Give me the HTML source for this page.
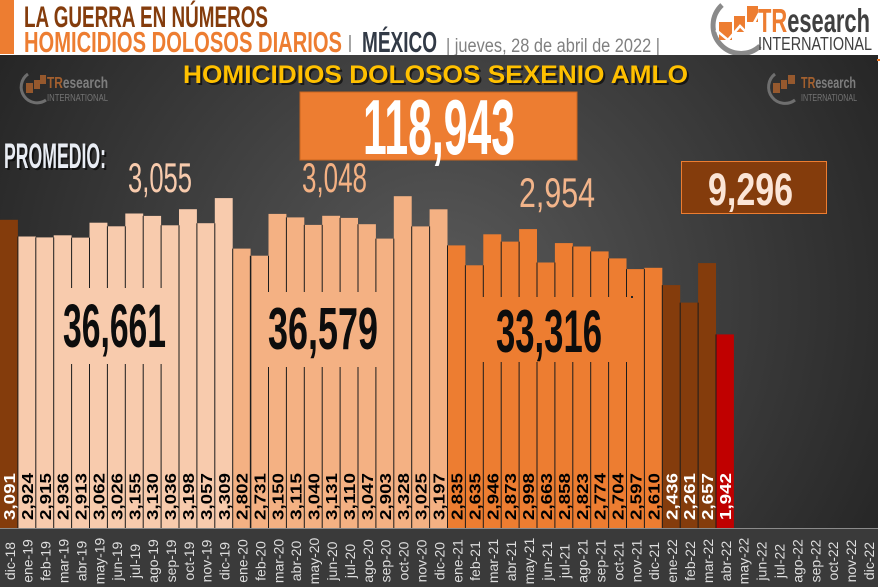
<!DOCTYPE html>
<html><head><meta charset="utf-8"><style>
html,body{margin:0;padding:0;background:#fff;width:880px;height:588px;overflow:hidden}
svg{display:block}
.b{font-family:"Liberation Sans",Arial,sans-serif;font-weight:bold}
.r{font-family:"Liberation Sans",Arial,sans-serif}
</style></head><body>
<svg width="880" height="588" viewBox="0 0 880 588" xmlns="http://www.w3.org/2000/svg">
<defs>
<radialGradient id="bg" cx="440" cy="300" r="520" gradientUnits="userSpaceOnUse">
<stop offset="0" stop-color="#5a5a5a"/><stop offset="0.55" stop-color="#3c3c3c"/><stop offset="1" stop-color="#242424"/>
</radialGradient>
</defs>
<rect x="0" y="0" width="880" height="588" fill="#fff"/>
<!-- header -->
<rect x="0" y="0" width="14" height="54" fill="#ed7d31"/>
<text class="b" x="24" y="27" font-size="30" fill="#843c0c" textLength="244" lengthAdjust="spacingAndGlyphs">LA GUERRA EN NÚMEROS</text>
<text class="b" x="24" y="52" font-size="29" fill="#ed7d31" textLength="318" lengthAdjust="spacingAndGlyphs">HOMICIDIOS DOLOSOS DIARIOS</text>
<rect x="349" y="35" width="2" height="17" fill="#a6a6a6"/>
<text class="b" x="362" y="52" font-size="29" fill="#323a46" textLength="75" lengthAdjust="spacingAndGlyphs">MÉXICO</text>
<text class="r" x="446" y="52" font-size="19" fill="#808080" textLength="214" lengthAdjust="spacingAndGlyphs">| jueves, 28 de abril de 2022 |</text>
<!-- logo top right -->
<path d="M722 5 A26 26 0 1 0 760 46" fill="none" stroke="#8a8a8a" stroke-width="5"/>
<rect x="719" y="22" width="13" height="18" fill="#ed7d31"/>
<rect x="734" y="16" width="11" height="16" fill="#ed7d31"/>
<rect x="747" y="6" width="11" height="16" fill="#ed7d31"/>
<polyline points="716,30 728,40 740,26 748,34 762,8" fill="none" stroke="#fff" stroke-width="2.5"/>
<text class="b" x="758" y="32" font-size="33" textLength="112" lengthAdjust="spacingAndGlyphs"><tspan fill="#ed7d31">TR</tspan><tspan fill="#404040">esearch</tspan></text>
<text class="r" x="758" y="50" font-size="18" fill="#404040" textLength="114" lengthAdjust="spacingAndGlyphs">INTERNATIONAL</text>
<!-- dark area -->
<rect x="0" y="55" width="878" height="532" fill="url(#bg)"/>
<rect x="877" y="59" width="3" height="2" fill="#ed7d31"/>
<!-- watermarks -->
<g opacity="0.85">
<path d="M28 74 A15 15 0 1 0 46 100" fill="none" stroke="#7a7a7a" stroke-width="3"/>
<rect x="26" y="83" width="7" height="10" fill="#a8612e"/><rect x="34" y="80" width="6" height="9" fill="#a8612e"/><rect x="40" y="75" width="6" height="9" fill="#a8612e"/>
<text class="b" x="47" y="88" font-size="16" textLength="61" lengthAdjust="spacingAndGlyphs"><tspan fill="#b8692f">TR</tspan><tspan fill="#8c8c8c">esearch</tspan></text>
<text class="r" x="47" y="101" font-size="10.5" fill="#7f7f7f" textLength="61" lengthAdjust="spacingAndGlyphs">INTERNATIONAL</text>
<path d="M775 74 A15 15 0 1 0 795 100" fill="none" stroke="#7a7a7a" stroke-width="3"/>
<rect x="773" y="83" width="7" height="10" fill="#a8612e"/><rect x="781" y="80" width="6" height="9" fill="#a8612e"/><rect x="788" y="75" width="7" height="9" fill="#a8612e"/>
<text class="b" x="801" y="88" font-size="16" textLength="55" lengthAdjust="spacingAndGlyphs"><tspan fill="#b8692f">TR</tspan><tspan fill="#8c8c8c">esearch</tspan></text>
<text class="r" x="801" y="101" font-size="10.5" fill="#7f7f7f" textLength="56" lengthAdjust="spacingAndGlyphs">INTERNATIONAL</text>
</g>
<!-- title -->
<text class="b" x="185" y="85" font-size="25" fill="#000" opacity="0.6" textLength="505" lengthAdjust="spacingAndGlyphs">HOMICIDIOS DOLOSOS SEXENIO AMLO</text>
<text class="b" x="183" y="83" font-size="25" fill="#ffc000" textLength="505" lengthAdjust="spacingAndGlyphs">HOMICIDIOS DOLOSOS SEXENIO AMLO</text>
<!-- total box -->
<rect x="300" y="92" width="277" height="68" fill="#ed7d31" stroke="#c9651f" stroke-width="1"/>
<text class="b" x="363" y="154" font-size="78" fill="#fff" textLength="152" lengthAdjust="spacingAndGlyphs">118,943</text>
<!-- promedio -->
<text class="b" x="6" y="170" font-size="35" fill="#000" opacity="0.6" textLength="102" lengthAdjust="spacingAndGlyphs">PROMEDIO:</text>
<text class="b" x="4" y="168" font-size="35" fill="#e9edf4" textLength="102" lengthAdjust="spacingAndGlyphs">PROMEDIO:</text>
<text class="r" x="128" y="192" font-size="42" fill="#f8cbad" textLength="64" lengthAdjust="spacingAndGlyphs">3,055</text>
<text class="r" x="302" y="192" font-size="42" fill="#f4b183" textLength="65" lengthAdjust="spacingAndGlyphs">3,048</text>
<text class="r" x="519" y="207" font-size="42" fill="#f2b48a" textLength="76" lengthAdjust="spacingAndGlyphs">2,954</text>
<!-- 9296 box -->
<rect x="681.5" y="161.5" width="145" height="52" fill="#843c0c" stroke="#ed7d31" stroke-width="1"/>
<text class="b" x="708" y="205" font-size="45" fill="#fbe5d6" textLength="85" lengthAdjust="spacingAndGlyphs">9,296</text>
<!-- label strip -->
<rect x="0" y="528" width="878" height="59" fill="#3a3a3a"/>
<rect x="0" y="528" width="878" height="1" fill="#8a8a8a"/>
<!-- bars -->
<g>
<rect x="0" y="219.8" width="17.9" height="308.2" fill="#843c0c"/>
<rect x="17.9" y="236.5" width="17.9" height="291.5" fill="#f8cbad"/>
<rect x="35.8" y="237.4" width="17.9" height="290.6" fill="#f8cbad"/>
<rect x="53.7" y="235.3" width="17.9" height="292.7" fill="#f8cbad"/>
<rect x="71.6" y="237.6" width="17.9" height="290.4" fill="#f8cbad"/>
<rect x="89.5" y="222.7" width="17.9" height="305.3" fill="#f8cbad"/>
<rect x="107.4" y="226.3" width="17.9" height="301.7" fill="#f8cbad"/>
<rect x="125.3" y="213.5" width="17.9" height="314.5" fill="#f8cbad"/>
<rect x="143.2" y="215.9" width="17.9" height="312.1" fill="#f8cbad"/>
<rect x="161.1" y="225.3" width="17.9" height="302.7" fill="#f8cbad"/>
<rect x="179" y="209.2" width="17.9" height="318.8" fill="#f8cbad"/>
<rect x="196.9" y="223.2" width="17.9" height="304.8" fill="#f8cbad"/>
<rect x="214.8" y="198.1" width="17.9" height="329.9" fill="#f8cbad"/>
<rect x="232.7" y="248.6" width="17.9" height="279.4" fill="#f4b183"/>
<rect x="250.6" y="255.7" width="17.9" height="272.3" fill="#f4b183"/>
<rect x="268.5" y="213.9" width="17.9" height="314.1" fill="#f4b183"/>
<rect x="286.4" y="217.4" width="17.9" height="310.6" fill="#f4b183"/>
<rect x="304.3" y="224.9" width="17.9" height="303.1" fill="#f4b183"/>
<rect x="322.2" y="215.8" width="17.9" height="312.2" fill="#f4b183"/>
<rect x="340.1" y="217.9" width="17.9" height="310.1" fill="#f4b183"/>
<rect x="358" y="224.2" width="17.9" height="303.8" fill="#f4b183"/>
<rect x="375.9" y="238.6" width="17.9" height="289.4" fill="#f4b183"/>
<rect x="393.8" y="196.2" width="17.9" height="331.8" fill="#f4b183"/>
<rect x="411.7" y="226.4" width="17.9" height="301.6" fill="#f4b183"/>
<rect x="429.6" y="209.3" width="17.9" height="318.7" fill="#f4b183"/>
<rect x="447.5" y="245.4" width="17.9" height="282.6" fill="#ed7d31"/>
<rect x="465.4" y="265.3" width="17.9" height="262.7" fill="#ed7d31"/>
<rect x="483.3" y="234.3" width="17.9" height="293.7" fill="#ed7d31"/>
<rect x="501.2" y="241.6" width="17.9" height="286.4" fill="#ed7d31"/>
<rect x="519.1" y="229.1" width="17.9" height="298.9" fill="#ed7d31"/>
<rect x="537" y="262.5" width="17.9" height="265.5" fill="#ed7d31"/>
<rect x="554.9" y="243.1" width="17.9" height="284.9" fill="#ed7d31"/>
<rect x="572.8" y="246.5" width="17.9" height="281.5" fill="#ed7d31"/>
<rect x="590.7" y="251.4" width="17.9" height="276.6" fill="#ed7d31"/>
<rect x="608.6" y="258.4" width="17.9" height="269.6" fill="#ed7d31"/>
<rect x="626.5" y="269.1" width="17.9" height="258.9" fill="#ed7d31"/>
<rect x="644.4" y="267.8" width="17.9" height="260.2" fill="#ed7d31"/>
<rect x="662.3" y="285.1" width="17.9" height="242.9" fill="#843c0c"/>
<rect x="680.2" y="302.6" width="17.9" height="225.4" fill="#843c0c"/>
<rect x="698.1" y="263.1" width="17.9" height="264.9" fill="#843c0c"/>
<rect x="716" y="334.4" width="17.9" height="193.6" fill="#c00000"/>
</g>
<!-- separators -->
<g stroke="#1c1c1c" stroke-width="1">
<line x1="17.9" y1="236.5" x2="17.9" y2="528"/>
<line x1="35.8" y1="237.4" x2="35.8" y2="528"/>
<line x1="53.7" y1="237.4" x2="53.7" y2="528"/>
<line x1="71.6" y1="237.6" x2="71.6" y2="528"/>
<line x1="89.5" y1="237.6" x2="89.5" y2="528"/>
<line x1="107.4" y1="226.3" x2="107.4" y2="528"/>
<line x1="125.3" y1="226.3" x2="125.3" y2="528"/>
<line x1="143.2" y1="215.9" x2="143.2" y2="528"/>
<line x1="161.1" y1="225.3" x2="161.1" y2="528"/>
<line x1="179" y1="225.3" x2="179" y2="528"/>
<line x1="196.9" y1="223.2" x2="196.9" y2="528"/>
<line x1="214.8" y1="223.2" x2="214.8" y2="528"/>
<line x1="232.7" y1="248.6" x2="232.7" y2="528"/>
<line x1="250.6" y1="255.7" x2="250.6" y2="528" stroke-width="1.5"/>
<line x1="268.5" y1="255.7" x2="268.5" y2="528"/>
<line x1="286.4" y1="217.4" x2="286.4" y2="528"/>
<line x1="304.3" y1="224.9" x2="304.3" y2="528"/>
<line x1="322.2" y1="224.9" x2="322.2" y2="528"/>
<line x1="340.1" y1="217.9" x2="340.1" y2="528"/>
<line x1="358" y1="224.2" x2="358" y2="528"/>
<line x1="375.9" y1="238.6" x2="375.9" y2="528"/>
<line x1="393.8" y1="238.6" x2="393.8" y2="528"/>
<line x1="411.7" y1="226.4" x2="411.7" y2="528"/>
<line x1="429.6" y1="226.4" x2="429.6" y2="528"/>
<line x1="447.5" y1="245.4" x2="447.5" y2="528"/>
<line x1="465.4" y1="265.3" x2="465.4" y2="528"/>
<line x1="483.3" y1="265.3" x2="483.3" y2="528"/>
<line x1="501.2" y1="241.6" x2="501.2" y2="528"/>
<line x1="519.1" y1="241.6" x2="519.1" y2="528"/>
<line x1="537" y1="262.5" x2="537" y2="528"/>
<line x1="554.9" y1="262.5" x2="554.9" y2="528"/>
<line x1="572.8" y1="246.5" x2="572.8" y2="528"/>
<line x1="590.7" y1="251.4" x2="590.7" y2="528"/>
<line x1="608.6" y1="258.4" x2="608.6" y2="528"/>
<line x1="626.5" y1="269.1" x2="626.5" y2="528"/>
<line x1="644.4" y1="269.1" x2="644.4" y2="528"/>
<line x1="662.3" y1="285.1" x2="662.3" y2="528"/>
<line x1="680.2" y1="302.6" x2="680.2" y2="528"/>
<line x1="698.1" y1="302.6" x2="698.1" y2="528"/>
<line x1="716" y1="334.4" x2="716" y2="528"/>
</g>
<!-- overlay boxes -->
<rect x="55" y="288" width="122" height="76" fill="#f8cbad"/>
<rect x="253" y="292" width="138" height="75" fill="#f4b183"/>
<rect x="472" y="297" width="160" height="65" fill="#ed7d31"/>
<rect x="631" y="296" width="2" height="2" fill="#222"/>
<text class="b" x="63" y="347" font-size="61" fill="#0d0d0d" textLength="103" lengthAdjust="spacingAndGlyphs">36,661</text>
<text class="b" x="268" y="349" font-size="59" fill="#0d0d0d" textLength="110" lengthAdjust="spacingAndGlyphs">36,579</text>
<text class="b" x="496" y="352" font-size="60" fill="#0d0d0d" textLength="106" lengthAdjust="spacingAndGlyphs">33,316</text>
<!-- bar values -->
<g font-size="16" font-family="Liberation Sans, Arial, sans-serif" font-weight="bold">
<text transform="translate(15,520) rotate(-90)" fill="#fff" textLength="47" lengthAdjust="spacingAndGlyphs">3,091</text>
<text transform="translate(32.9,520) rotate(-90)" fill="#000" textLength="47" lengthAdjust="spacingAndGlyphs">2,924</text>
<text transform="translate(50.8,520) rotate(-90)" fill="#000" textLength="47" lengthAdjust="spacingAndGlyphs">2,915</text>
<text transform="translate(68.7,520) rotate(-90)" fill="#000" textLength="47" lengthAdjust="spacingAndGlyphs">2,936</text>
<text transform="translate(86.6,520) rotate(-90)" fill="#000" textLength="47" lengthAdjust="spacingAndGlyphs">2,913</text>
<text transform="translate(104.5,520) rotate(-90)" fill="#000" textLength="47" lengthAdjust="spacingAndGlyphs">3,062</text>
<text transform="translate(122.4,520) rotate(-90)" fill="#000" textLength="47" lengthAdjust="spacingAndGlyphs">3,026</text>
<text transform="translate(140.3,520) rotate(-90)" fill="#000" textLength="47" lengthAdjust="spacingAndGlyphs">3,155</text>
<text transform="translate(158.2,520) rotate(-90)" fill="#000" textLength="47" lengthAdjust="spacingAndGlyphs">3,130</text>
<text transform="translate(176.1,520) rotate(-90)" fill="#000" textLength="47" lengthAdjust="spacingAndGlyphs">3,036</text>
<text transform="translate(194,520) rotate(-90)" fill="#000" textLength="47" lengthAdjust="spacingAndGlyphs">3,198</text>
<text transform="translate(211.9,520) rotate(-90)" fill="#000" textLength="47" lengthAdjust="spacingAndGlyphs">3,057</text>
<text transform="translate(229.8,520) rotate(-90)" fill="#000" textLength="47" lengthAdjust="spacingAndGlyphs">3,309</text>
<text transform="translate(247.7,520) rotate(-90)" fill="#000" textLength="47" lengthAdjust="spacingAndGlyphs">2,802</text>
<text transform="translate(265.6,520) rotate(-90)" fill="#000" textLength="47" lengthAdjust="spacingAndGlyphs">2,731</text>
<text transform="translate(283.5,520) rotate(-90)" fill="#000" textLength="47" lengthAdjust="spacingAndGlyphs">3,150</text>
<text transform="translate(301.4,520) rotate(-90)" fill="#000" textLength="47" lengthAdjust="spacingAndGlyphs">3,115</text>
<text transform="translate(319.3,520) rotate(-90)" fill="#000" textLength="47" lengthAdjust="spacingAndGlyphs">3,040</text>
<text transform="translate(337.2,520) rotate(-90)" fill="#000" textLength="47" lengthAdjust="spacingAndGlyphs">3,131</text>
<text transform="translate(355.1,520) rotate(-90)" fill="#000" textLength="47" lengthAdjust="spacingAndGlyphs">3,110</text>
<text transform="translate(373,520) rotate(-90)" fill="#000" textLength="47" lengthAdjust="spacingAndGlyphs">3,047</text>
<text transform="translate(390.9,520) rotate(-90)" fill="#000" textLength="47" lengthAdjust="spacingAndGlyphs">2,903</text>
<text transform="translate(408.8,520) rotate(-90)" fill="#000" textLength="47" lengthAdjust="spacingAndGlyphs">3,328</text>
<text transform="translate(426.7,520) rotate(-90)" fill="#000" textLength="47" lengthAdjust="spacingAndGlyphs">3,025</text>
<text transform="translate(444.6,520) rotate(-90)" fill="#000" textLength="47" lengthAdjust="spacingAndGlyphs">3,197</text>
<text transform="translate(462.5,520) rotate(-90)" fill="#000" textLength="47" lengthAdjust="spacingAndGlyphs">2,835</text>
<text transform="translate(480.4,520) rotate(-90)" fill="#000" textLength="47" lengthAdjust="spacingAndGlyphs">2,635</text>
<text transform="translate(498.3,520) rotate(-90)" fill="#000" textLength="47" lengthAdjust="spacingAndGlyphs">2,946</text>
<text transform="translate(516.2,520) rotate(-90)" fill="#000" textLength="47" lengthAdjust="spacingAndGlyphs">2,873</text>
<text transform="translate(534.1,520) rotate(-90)" fill="#000" textLength="47" lengthAdjust="spacingAndGlyphs">2,998</text>
<text transform="translate(552,520) rotate(-90)" fill="#000" textLength="47" lengthAdjust="spacingAndGlyphs">2,663</text>
<text transform="translate(569.9,520) rotate(-90)" fill="#000" textLength="47" lengthAdjust="spacingAndGlyphs">2,858</text>
<text transform="translate(587.8,520) rotate(-90)" fill="#000" textLength="47" lengthAdjust="spacingAndGlyphs">2,823</text>
<text transform="translate(605.7,520) rotate(-90)" fill="#000" textLength="47" lengthAdjust="spacingAndGlyphs">2,774</text>
<text transform="translate(623.6,520) rotate(-90)" fill="#000" textLength="47" lengthAdjust="spacingAndGlyphs">2,704</text>
<text transform="translate(641.5,520) rotate(-90)" fill="#000" textLength="47" lengthAdjust="spacingAndGlyphs">2,597</text>
<text transform="translate(659.4,520) rotate(-90)" fill="#000" textLength="47" lengthAdjust="spacingAndGlyphs">2,610</text>
<text transform="translate(677.3,520) rotate(-90)" fill="#fff" textLength="47" lengthAdjust="spacingAndGlyphs">2,436</text>
<text transform="translate(695.2,520) rotate(-90)" fill="#fff" textLength="47" lengthAdjust="spacingAndGlyphs">2,261</text>
<text transform="translate(713.1,520) rotate(-90)" fill="#fff" textLength="47" lengthAdjust="spacingAndGlyphs">2,657</text>
<text transform="translate(731,520) rotate(-90)" fill="#fff" textLength="47" lengthAdjust="spacingAndGlyphs">1,942</text>
</g>
<!-- month labels -->
<g font-family="Liberation Sans, Arial, sans-serif" font-size="14" fill="#dedede" text-anchor="middle">
<text transform="translate(14.8,561) rotate(-90)">dic-18</text>
<text transform="translate(32.7,561) rotate(-90)">ene-19</text>
<text transform="translate(50.6,561) rotate(-90)">feb-19</text>
<text transform="translate(68.5,561) rotate(-90)">mar-19</text>
<text transform="translate(86.4,561) rotate(-90)">abr-19</text>
<text transform="translate(104.3,561) rotate(-90)">may-19</text>
<text transform="translate(122.2,561) rotate(-90)">jun-19</text>
<text transform="translate(140.1,561) rotate(-90)">jul-19</text>
<text transform="translate(158,561) rotate(-90)">ago-19</text>
<text transform="translate(175.9,561) rotate(-90)">sep-19</text>
<text transform="translate(193.8,561) rotate(-90)">oct-19</text>
<text transform="translate(211.7,561) rotate(-90)">nov-19</text>
<text transform="translate(229.6,561) rotate(-90)">dic-19</text>
<text transform="translate(247.5,561) rotate(-90)">ene-20</text>
<text transform="translate(265.4,561) rotate(-90)">feb-20</text>
<text transform="translate(283.3,561) rotate(-90)">mar-20</text>
<text transform="translate(301.2,561) rotate(-90)">abr-20</text>
<text transform="translate(319.1,561) rotate(-90)">may-20</text>
<text transform="translate(337,561) rotate(-90)">jun-20</text>
<text transform="translate(354.9,561) rotate(-90)">jul-20</text>
<text transform="translate(372.8,561) rotate(-90)">ago-20</text>
<text transform="translate(390.7,561) rotate(-90)">sep-20</text>
<text transform="translate(408.6,561) rotate(-90)">oct-20</text>
<text transform="translate(426.5,561) rotate(-90)">nov-20</text>
<text transform="translate(444.4,561) rotate(-90)">dic-20</text>
<text transform="translate(462.3,561) rotate(-90)">ene-21</text>
<text transform="translate(480.2,561) rotate(-90)">feb-21</text>
<text transform="translate(498.1,561) rotate(-90)">mar-21</text>
<text transform="translate(516,561) rotate(-90)">abr-21</text>
<text transform="translate(533.9,561) rotate(-90)">may-21</text>
<text transform="translate(551.8,561) rotate(-90)">jun-21</text>
<text transform="translate(569.7,561) rotate(-90)">jul-21</text>
<text transform="translate(587.6,561) rotate(-90)">ago-21</text>
<text transform="translate(605.5,561) rotate(-90)">sep-21</text>
<text transform="translate(623.4,561) rotate(-90)">oct-21</text>
<text transform="translate(641.3,561) rotate(-90)">nov-21</text>
<text transform="translate(659.2,561) rotate(-90)">dic-21</text>
<text transform="translate(677.1,561) rotate(-90)">ene-22</text>
<text transform="translate(695,561) rotate(-90)">feb-22</text>
<text transform="translate(712.9,561) rotate(-90)">mar-22</text>
<text transform="translate(730.8,561) rotate(-90)">abr-22</text>
<text transform="translate(748.7,561) rotate(-90)">may-22</text>
<text transform="translate(766.6,561) rotate(-90)">jun-22</text>
<text transform="translate(784.5,561) rotate(-90)">jul-22</text>
<text transform="translate(802.4,561) rotate(-90)">ago-22</text>
<text transform="translate(820.3,561) rotate(-90)">sep-22</text>
<text transform="translate(838.2,561) rotate(-90)">oct-22</text>
<text transform="translate(856.1,561) rotate(-90)">nov-22</text>
<text transform="translate(874,561) rotate(-90)">dic-22</text>
</g>
</svg>
</body></html>
